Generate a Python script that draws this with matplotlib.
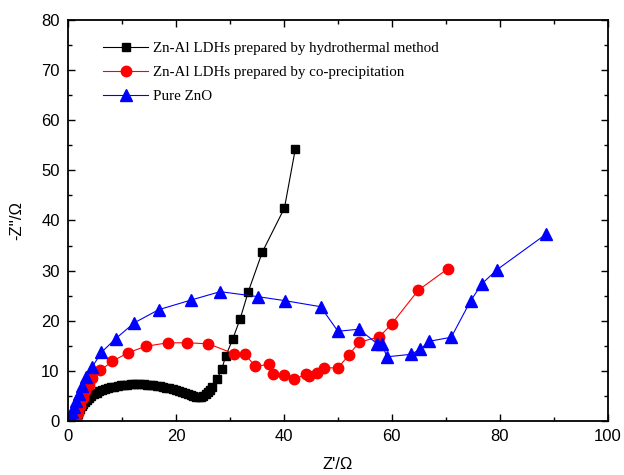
import matplotlib
matplotlib.use("Agg")
import matplotlib.pyplot as plt
from matplotlib.ticker import MultipleLocator

# Nyquist data (Z' , -Z'')
hydro_x = [1.5, 1.6, 1.8, 2.0, 2.2, 2.5, 2.8, 3.1, 3.5, 3.9, 4.3, 4.8, 5.3, 5.8,
           6.3, 6.8, 7.4, 8.0, 8.6, 9.2, 9.8, 10.4, 11.0, 11.6, 12.2, 12.8,
           13.4, 14.0, 14.6, 15.2, 15.8, 16.4, 17.0, 17.6, 18.2, 18.8, 19.4,
           20.0, 20.6, 21.2, 21.7, 22.2, 22.7, 23.2, 23.7, 24.2, 24.7, 25.1,
           25.5, 25.9, 26.3, 26.7, 27.6, 28.5, 29.2, 30.5, 31.9, 33.4, 36.0,
           40.1, 42.1]
hydro_y = [0.2, 0.7, 1.3, 1.9, 2.4, 2.9, 3.4, 3.8, 4.2, 4.6, 4.9, 5.3, 5.6, 5.9,
           6.1, 6.3, 6.5, 6.7, 6.85, 7.0, 7.1, 7.2, 7.25, 7.3, 7.35, 7.35,
           7.35, 7.3, 7.25, 7.2, 7.1, 7.0, 6.9, 6.8, 6.65, 6.5, 6.35,
           6.2, 6.0, 5.8, 5.6, 5.4, 5.2, 5.0, 4.85, 4.8, 4.85, 5.0,
           5.3, 5.7, 6.2, 6.8, 8.3, 10.4, 12.9, 16.3, 20.4, 25.8, 33.7,
           42.5, 54.2]

coprec_x = [1.5, 1.8, 2.2, 2.7, 3.2, 3.8, 4.5, 6.0, 8.2, 11.1, 14.4, 18.5, 22.1,
            26.0, 30.8, 32.7, 34.7, 37.3, 37.9, 40.1, 41.8, 44.1, 44.7, 46.2,
            47.5, 50.0, 52.0, 53.9, 57.7, 60.0, 64.9, 70.4]
coprec_y = [0.3, 1.5, 3.0, 4.5, 5.9, 7.2, 8.6, 10.1, 11.9, 13.6, 14.9, 15.6, 15.6,
            15.4, 13.4, 13.4, 10.9, 11.3, 9.4, 9.1, 8.3, 9.3, 9.0, 9.6,
            10.6, 10.6, 13.1, 15.7, 16.8, 19.4, 26.1, 30.4]

zno_x = [0.4, 0.6, 0.8, 1.1, 1.5, 2.0, 2.6, 3.3, 4.5, 6.2, 8.8, 12.3, 16.8, 22.7,
         28.2, 35.2, 40.2, 46.8, 50.0, 53.9, 57.3, 58.1, 59.1, 63.5, 65.3,
         66.9, 71.0, 74.6, 76.7, 79.5, 88.6]
zno_y = [0.0, 0.8, 1.8, 2.8, 4.0, 5.4, 7.0, 8.7, 10.8, 13.7, 16.4, 19.6, 22.2, 24.1,
         25.8, 24.8, 24.0, 22.8, 17.9, 18.3, 15.4, 15.4, 12.8, 13.3, 14.3,
         15.9, 16.7, 24.0, 27.4, 30.2, 37.3]

labels = ["Zn-Al LDHs prepared by hydrothermal method",
          "Zn-Al LDHs prepared by co-precipitation",
          "Pure ZnO"]

plt.rcParams['font.family'] = ['Liberation Sans', 'DejaVu Sans']

fig = plt.figure(figsize=(6.24, 4.75), dpi=100)
ax = fig.add_axes([0.109, 0.1137, 0.865, 0.8443])

ax.plot(hydro_x, hydro_y, color='black', lw=0.8, marker='s', ms=6, label=labels[0])
ax.plot(coprec_x, coprec_y, color='red', lw=0.8, marker='o', ms=7.5, label=labels[1])
ax.plot(zno_x, zno_y, color='blue', lw=0.8, marker='^', ms=8, label=labels[2])

ax.set_xlim(0, 100)
ax.set_ylim(0, 80)
ax.xaxis.set_major_locator(MultipleLocator(20))
ax.xaxis.set_minor_locator(MultipleLocator(10))
ax.yaxis.set_major_locator(MultipleLocator(10))
ax.yaxis.set_minor_locator(MultipleLocator(5))
ax.tick_params(which='both', direction='in', top=True, right=True,
               labelsize=12, width=1.0)
ax.tick_params(which='major', length=5)
ax.tick_params(which='minor', length=3)
ax.tick_params(axis='both', which='major', pad=6)
for s in ax.spines.values():
    s.set_linewidth(1.3)

ax.set_xlabel("Z'/Ω", fontsize=12, labelpad=9)
ax.set_ylabel("-Z''/Ω", fontsize=12, labelpad=12)

ax.legend(loc='upper left', bbox_to_anchor=(0.04, 0.98), frameon=False,
          prop={'family': 'Liberation Serif', 'size': 10.8},
          handlelength=3.0, handletextpad=0.3, labelspacing=0.7)

fig.savefig("out.png", dpi=100)
